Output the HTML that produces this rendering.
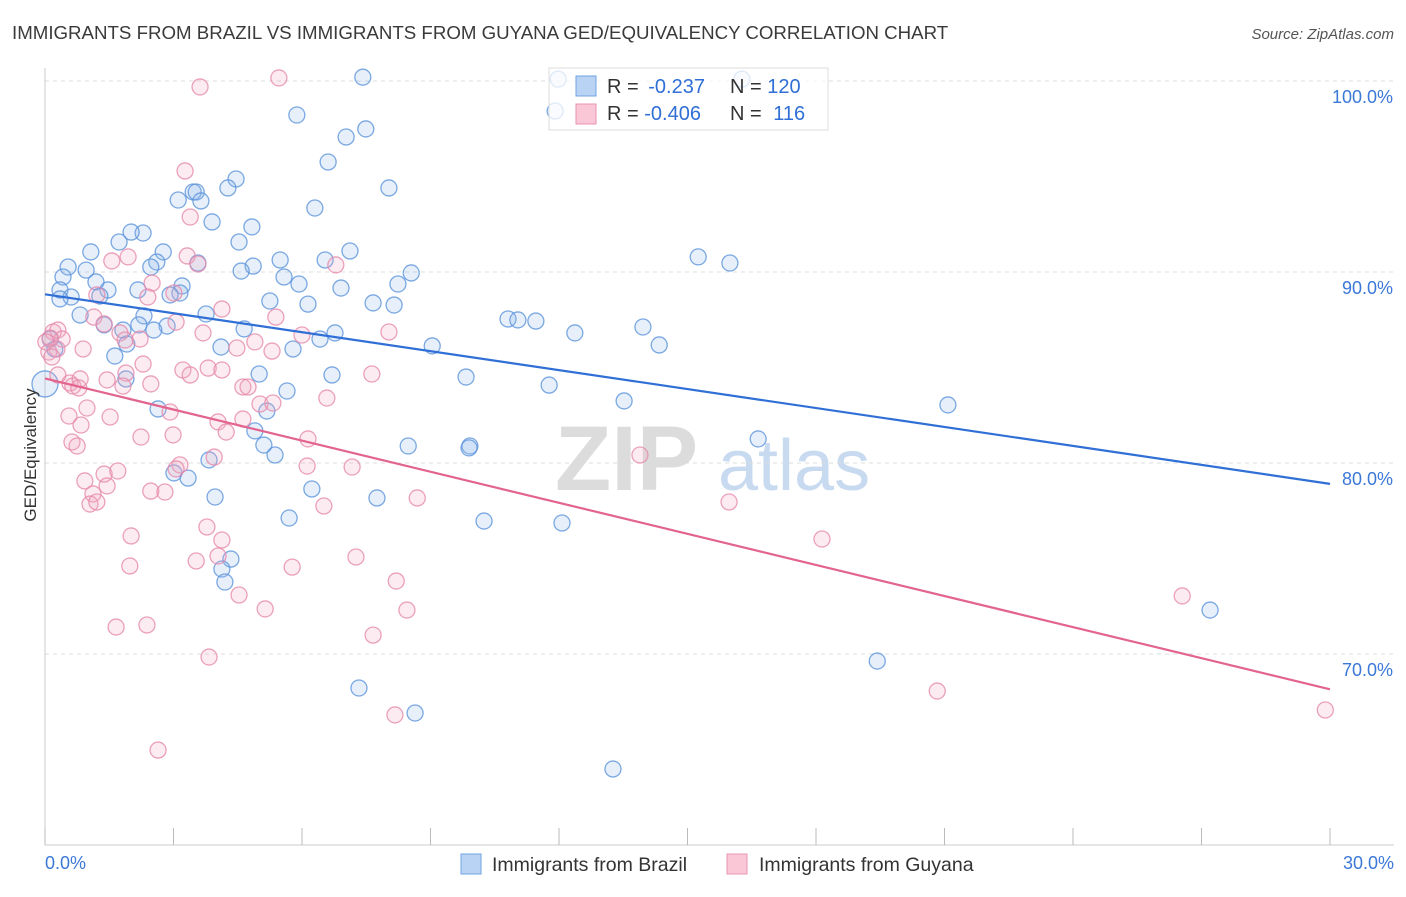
<!DOCTYPE html>
<html><head><meta charset="utf-8">
<style>
body{margin:0;background:#fff;font-family:"Liberation Sans",sans-serif;}
svg text{font-family:"Liberation Sans",sans-serif;}
</style></head>
<body>
<svg id="chart" width="1406" height="892" viewBox="0 0 1406 892" xmlns="http://www.w3.org/2000/svg">
<text x="12" y="39" font-size="18.7" fill="#3a3a3a">IMMIGRANTS FROM BRAZIL VS IMMIGRANTS FROM GUYANA GED/EQUIVALENCY CORRELATION CHART</text>
<text x="1394" y="39" font-size="15" fill="#555" font-style="italic" text-anchor="end">Source: ZipAtlas.com</text>
<g>
<text x="555" y="490" font-size="92" fill="#dcdcdc" font-family="Liberation Serif" font-weight="bold">ZIP</text>
<text x="718" y="490" font-size="72" fill="#c8daf0">atlas</text>
</g>
<g id="grid"></g>
<g id="axes"></g>
<g id="pts"></g>
<g id="lines"></g>
<text x="36" y="455" font-size="17" fill="#333" text-anchor="middle" transform="rotate(-90 36 455)">GED/Equivalency</text>
<g>
<rect x="549" y="68" width="279" height="62" fill="#fff" fill-opacity="0.75" stroke="#ddd"/>
<rect x="576" y="76" width="20" height="20" fill="#b8d3f3" stroke="#6fa3e0"/>
<rect x="576" y="104" width="20" height="20" fill="#f9c7d6" stroke="#e993b2"/>
<text x="607" y="93" font-size="20" fill="#333">R = <tspan dx="4" fill="#2f6fd6">-0.237</tspan></text>
<text x="730" y="93" font-size="20" fill="#333">N = <tspan fill="#2f6fd6">120</tspan></text>
<text x="607" y="120" font-size="20" fill="#333">R = <tspan fill="#2f6fd6">-0.406</tspan></text>
<text x="730" y="120" font-size="20" fill="#333">N = <tspan dx="6" fill="#2f6fd6">116</tspan></text>
</g>
<g>
<rect x="461" y="854" width="20" height="20" fill="#b8d3f3" stroke="#6fa3e0"/>
<text x="492" y="871" font-size="19.5" fill="#333">Immigrants from Brazil</text>
<rect x="727" y="854" width="20" height="20" fill="#f9c7d6" stroke="#e993b2"/>
<text x="759" y="871" font-size="19.5" fill="#333">Immigrants from Guyana</text>
</g>
</svg>
<script>
const yTicks=[70,80,90,100];
const yTickLabels=["70.0%","80.0%","90.0%","100.0%"];
const xEndLabels=["0.0%","30.0%"];
const brazilX=[7.42,16.27,11.98,11.91,5.88,7.49,7.03,6.61,8.03,4.46,4.27,3.46,3.53,3.11,3.64,6.30,3.90,4.83,2.29,2.01,4.53,1.73,1.07,2.76,7.12,15.25,15.99,2.61,2.47,5.49,6.54,4.86,4.58,3.57,0.54,0.96,0.42,1.19,8.55,5.58,5.93,6.91,8.24,0.35,1.47,2.17,3.20,3.15,0.61,1.28,2.92,0.35,5.25,6.14,7.66,8.15,2.31,3.76,0.82,10.81,11.04,11.46,1.38,2.19,2.85,1.82,2.54,4.65,6.77,6.42,13.96,12.37,9.04,14.34,5.79,4.11,1.63,1.91,5.00,6.70,9.83,1.89,11.77,5.65,13.52,16.65,21.08,2.64,5.18,4.90,5.11,8.48,9.92,9.90,5.37,3.83,3.01,3.34,6.23,7.75,3.97,10.25,12.07,5.70,4.34,4.13,4.20,27.20,19.43,7.33,8.64,13.26,0.23,0.12,0];
const brazilY=[100.2,100.1,100.1,98.43,98.22,97.49,97.07,95.76,94.40,94.87,94.40,94.19,94.19,93.77,93.72,93.35,92.62,92.36,92.04,92.09,91.57,91.57,91.05,91.05,91.10,90.79,90.47,90.52,90.26,90.63,90.63,90.31,90.05,90.47,90.26,90.10,89.74,89.48,89.95,89.74,89.37,89.16,89.37,89.06,89.06,89.06,89.27,88.90,88.69,88.74,88.80,88.59,88.48,88.32,88.38,88.27,87.70,87.80,87.75,87.54,87.49,87.43,87.23,87.23,87.17,86.96,86.96,87.02,86.81,86.49,87.12,86.81,86.13,86.18,85.97,86.07,85.60,86.23,84.66,84.61,84.50,84.40,84.08,83.77,83.25,81.26,83.04,82.83,82.72,81.68,80.94,80.89,80.89,80.79,80.42,80.16,79.48,79.21,78.64,78.17,78.22,76.96,76.86,77.12,74.97,74.45,73.77,72.30,69.63,68.22,66.91,63.98,85.97,86.49,84.14];
const guyanaX=[5.46,3.62,3.27,3.39,3.32,1.94,1.56,3.57,2.50,6.79,2.40,3.01,1.21,4.13,5.39,1.14,1.38,3.06,0.19,0.30,0.40,0.12,0.02,0.28,0.09,0.16,1.75,1.87,2.22,3.69,6.00,8.03,0.89,4.48,4.90,5.30,2.29,1.89,1.82,2.47,0.58,0.65,0.79,0.30,0.82,1.45,3.22,3.81,4.13,3.39,4.62,4.74,7.63,6.58,5.02,5.32,0.98,0.56,0.84,1.52,2.92,4.04,4.23,4.62,2.99,2.24,0.63,0.75,6.14,6.12,7.17,3.15,3.06,3.95,1.38,1.70,0.93,1.45,1.12,2.47,2.80,1.05,1.21,6.51,8.69,15.97,3.78,2.01,4.13,4.04,3.53,7.26,5.77,1.98,8.20,4.53,5.14,8.45,26.55,1.66,2.38,7.66,3.83,20.83,8.17,2.64,29.89,13.89,18.14];
const guyanaY=[100.16,99.69,95.29,92.88,90.84,90.79,90.58,90.42,89.42,90.37,88.69,88.90,88.80,88.06,87.64,87.64,87.28,87.38,86.86,86.96,86.49,86.54,86.34,85.97,85.81,85.55,86.81,86.44,86.49,86.81,86.70,86.86,85.97,86.02,86.34,85.86,85.18,84.71,84.03,84.14,84.19,84.03,83.93,84.61,84.40,84.35,84.87,84.97,84.87,84.61,83.98,83.98,84.66,83.40,83.09,83.14,82.88,82.46,81.99,82.41,82.67,82.15,81.62,82.30,81.47,81.36,81.10,80.89,81.26,79.84,79.79,79.90,79.69,80.31,79.42,79.58,79.06,78.80,78.38,78.53,78.48,77.85,77.96,77.75,78.17,77.96,76.65,76.18,75.97,75.13,74.87,75.08,74.55,74.61,73.82,73.09,72.36,72.30,73.04,71.41,71.52,70.99,69.84,68.06,66.81,64.97,67.07,80.42,76.02];

const NS="http://www.w3.org/2000/svg";
const X0=45,X1=1330,Y100=81,PER10=191;
function sx(v){return X0+(v/30)*(X1-X0);}
function sy(v){return Y100+(100-v)/10*PER10;}
function mk(tag,attrs,parent){const e=document.createElementNS(NS,tag);for(const k in attrs)e.setAttribute(k,attrs[k]);parent.appendChild(e);return e;}
const grid=document.getElementById('grid'),axes=document.getElementById('axes'),pts=document.getElementById('pts'),lines=document.getElementById('lines');
yTicks.forEach((t,i)=>{
  const l=mk('line',{x1:X0,x2:1394,y1:sy(t),y2:sy(t),stroke:'#dcdcdc','stroke-dasharray':'4,4'},grid);
  
  
  const tx=mk('text',{x:1393,y:sy(t)+22,'font-size':18,fill:'#3b78d8','text-anchor':'end'},axes);
  tx.textContent=yTickLabels[i];
  
  
});
mk('line',{x1:X0,x2:X0,y1:68,y2:845,stroke:'#ccc'},axes);
mk('line',{x1:X0,x2:1394,y1:845,y2:845,stroke:'#ccc'},axes);
for(let i=0;i<=10;i++){const x=sx(i*3);const t=mk('line',{x1:x,x2:x,y1:828,y2:845,stroke:'#bbb'},axes);}
const xl0=mk('text',{x:45,y:869,'font-size':18,fill:'#3b78d8'},axes);xl0.textContent=xEndLabels[0];


const xl1=mk('text',{x:1394,y:869,'font-size':18,fill:'#3b78d8','text-anchor':'end'},axes);xl1.textContent=xEndLabels[1];



function drawSeries(xs,ys,fill,stroke,name){
  xs.forEach((v,i)=>{
    const c=mk('circle',{cx:sx(v),cy:sy(ys[i]),r:(v===0?13:8),fill:fill,'fill-opacity':0.22,stroke:stroke,'stroke-width':1.3,'stroke-opacity':0.8},pts);
    
    
  });
}
drawSeries(brazilX,brazilY,'#8fb8ea','#5b93dc','brazil');
drawSeries(guyanaX,guyanaY,'#f3a8c1','#e68aab','guyana');
function fit(xs,ys){const n=xs.length;let mx=0,my=0;for(let i=0;i<n;i++){mx+=xs[i];my+=ys[i];}mx/=n;my/=n;let a=0,b=0;for(let i=0;i<n;i++){a+=(xs[i]-mx)*(ys[i]-my);b+=(xs[i]-mx)**2;}const s=a/b;return [my-s*mx,s];}
function drawLine(xs,ys,color,name){const [b,s]=fit(xs,ys);const l=mk('line',{x1:sx(0),y1:sy(b),x2:sx(30),y2:sy(b+s*30),stroke:color,'stroke-width':2.2},lines);}
drawLine(brazilX,brazilY,'#2f6fd6','brazil-trend-line');
drawLine(guyanaX,guyanaY,'#e2648f','guyana-trend-line');
</script>
</body></html>
